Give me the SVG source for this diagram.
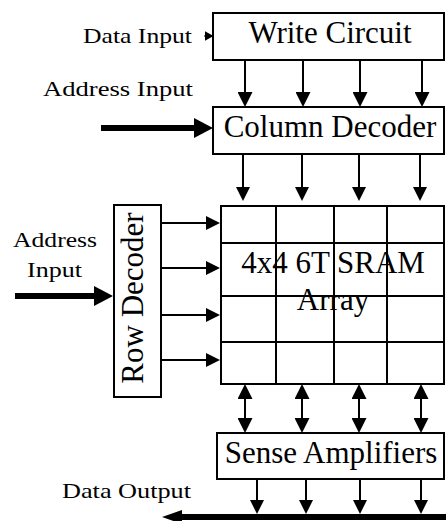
<svg xmlns="http://www.w3.org/2000/svg" width="446" height="521" viewBox="0 0 446 521">
<style>
.box{fill:#fff;stroke:#000;stroke-width:2}
.grid{fill:none;stroke:#000;stroke-width:2}
.big{font-family:"Liberation Serif","Times New Roman",serif;font-size:31px;fill:#000;text-anchor:middle}
.lbl{font-family:"Liberation Serif","Times New Roman",serif;font-size:22px;fill:#000}
.w{stroke:#000;stroke-width:2;fill:none}
.thick{stroke:#000;stroke-width:6;fill:none}
</style>
<defs>
<marker id="ah" viewBox="0 0 15 15" refX="0" refY="7.5" markerWidth="15" markerHeight="15" markerUnits="userSpaceOnUse" orient="auto-start-reverse"><path d="M0,0 L15,7.5 L0,15 z" fill="#000"/></marker>
<marker id="ahs" viewBox="0 0 14 14" refX="0" refY="7" markerWidth="14" markerHeight="14" markerUnits="userSpaceOnUse" orient="auto-start-reverse"><path d="M0,0 L14,7 L0,14 z" fill="#000"/></marker>
<marker id="ahb" viewBox="0 0 19 20" refX="0" refY="10" markerWidth="19" markerHeight="20" markerUnits="userSpaceOnUse" orient="auto"><path d="M0,0 L19,10 L0,20 z" fill="#000"/></marker>
<marker id="ahbus" viewBox="0 0 20 14" refX="0" refY="7" markerWidth="20" markerHeight="14" markerUnits="userSpaceOnUse" orient="auto"><path d="M0,0 L20,7 L0,14 z" fill="#000"/></marker>
<marker id="ahsm" viewBox="0 0 9 10" refX="0" refY="5" markerWidth="9" markerHeight="10" markerUnits="userSpaceOnUse" orient="auto"><path d="M0,0 L9,5 L0,10 z" fill="#000"/></marker>
</defs>

<g id="labels">
<text class="lbl" x="83" y="43" textLength="109" lengthAdjust="spacingAndGlyphs">Data Input</text>
<text class="lbl" x="43" y="96" textLength="150" lengthAdjust="spacingAndGlyphs">Address Input</text>
<text class="lbl" x="13" y="247" textLength="84" lengthAdjust="spacingAndGlyphs">Address</text>
<text class="lbl" x="27" y="277" textLength="55" lengthAdjust="spacingAndGlyphs">Input</text>
<text class="lbl" x="62" y="498" textLength="129" lengthAdjust="spacingAndGlyphs">Data Output</text>
</g>

<g id="write-circuit">
<rect class="box" x="213" y="13" width="231" height="47"/>
<text class="big" x="330" y="43">Write Circuit</text>
</g>

<g id="column-decoder">
<rect class="box" x="213" y="107" width="231" height="47"/>
<text class="big" x="330" y="137">Column Decoder</text>
</g>

<g id="row-decoder">
<rect class="box" x="114" y="205" width="47" height="192"/>
<text class="big" transform="translate(143,298) rotate(-90)" x="0" y="0">Row Decoder</text>
</g>

<g id="sram-array">
<rect class="grid" x="221" y="206" width="223" height="178"/>
<path class="grid" d="M276,206V384M334,206V384M387,206V384M221,243H444M221,296H444M221,342H444"/>
<text class="big" x="333" y="273">4x4 6T SRAM</text>
<text class="big" x="333" y="310">Array</text>
</g>

<g id="sense-amplifiers">
<rect class="box" x="217" y="433" width="227" height="46"/>
<text class="big" x="331" y="463">Sense Amplifiers</text>
</g>

<g id="connectors">
<line class="w" x1="204" y1="36" x2="204.5" y2="36" marker-end="url(#ahsm)"/>
<line class="w" x1="209" y1="36" x2="213" y2="36"/>
<line class="w" x1="245" y1="60" x2="245" y2="92" marker-end="url(#ah)"/>
<line class="w" x1="303" y1="60" x2="303" y2="92" marker-end="url(#ah)"/>
<line class="w" x1="360" y1="60" x2="360" y2="92" marker-end="url(#ah)"/>
<line class="w" x1="422" y1="60" x2="422" y2="92" marker-end="url(#ah)"/>
<line class="thick" x1="101" y1="128" x2="194" y2="128" marker-end="url(#ahb)"/>
<line class="w" x1="243" y1="154" x2="243" y2="187" marker-end="url(#ahs)"/>
<line class="w" x1="302" y1="154" x2="302" y2="187" marker-end="url(#ahs)"/>
<line class="w" x1="359" y1="154" x2="359" y2="187" marker-end="url(#ahs)"/>
<line class="w" x1="420" y1="154" x2="420" y2="187" marker-end="url(#ahs)"/>
<line class="thick" x1="15" y1="296" x2="94" y2="296" marker-end="url(#ahb)"/>
<line class="w" x1="161" y1="223" x2="206" y2="223" marker-end="url(#ahs)"/>
<line class="w" x1="161" y1="268" x2="206" y2="268" marker-end="url(#ahs)"/>
<line class="w" x1="161" y1="315" x2="206" y2="315" marker-end="url(#ahs)"/>
<line class="w" x1="161" y1="360" x2="206" y2="360" marker-end="url(#ahs)"/>
<line class="w" x1="245" y1="399" x2="245" y2="418" marker-start="url(#ah)" marker-end="url(#ah)"/>
<line class="w" x1="302" y1="399" x2="302" y2="418" marker-start="url(#ah)" marker-end="url(#ah)"/>
<line class="w" x1="359" y1="399" x2="359" y2="418" marker-start="url(#ah)" marker-end="url(#ah)"/>
<line class="w" x1="421" y1="399" x2="421" y2="418" marker-start="url(#ah)" marker-end="url(#ah)"/>
<line class="w" x1="257" y1="479" x2="257" y2="500" marker-end="url(#ahs)"/>
<line class="w" x1="306" y1="479" x2="306" y2="500" marker-end="url(#ahs)"/>
<line class="w" x1="360" y1="479" x2="360" y2="500" marker-end="url(#ahs)"/>
<line class="w" x1="421" y1="479" x2="421" y2="500" marker-end="url(#ahs)"/>
<line class="thick" x1="446" y1="517" x2="182" y2="517" marker-end="url(#ahbus)"/>
</g>
</svg>
